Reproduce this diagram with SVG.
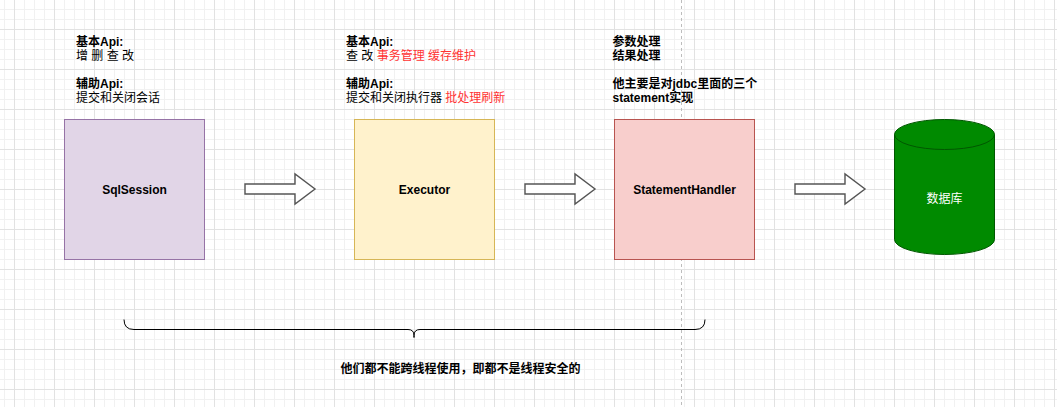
<svg xmlns="http://www.w3.org/2000/svg" width="1057" height="407" viewBox="0 0 1057 407">
<style>
text{font-family:"Liberation Sans","Noto Sans CJK SC",sans-serif;font-size:12px;fill:#000}
.b{font-weight:bold}
.red{fill:#ff3333}
.c{text-anchor:middle;dominant-baseline:central}
.arrow{fill:#fff;stroke:#555;stroke-width:1.4;stroke-linejoin:miter}
</style>
<defs>
<pattern id="grid" patternUnits="userSpaceOnUse" x="14" y="29" width="40" height="40">
<path d="M10.5 0V40M20.5 0V40M30.5 0V40M0 10.5H40M0 20.5H40M0 30.5H40" stroke="#f1f1f1" stroke-width="1" fill="none"/>
<path d="M0.5 0V40M0 0.5H40" stroke="#e2e2e2" stroke-width="1" fill="none"/>
</pattern>
</defs>
<rect width="1057" height="407" fill="#fff"/>
<rect width="1057" height="407" fill="url(#grid)"/>
<line x1="681.5" y1="0" x2="681.5" y2="407" stroke="#bdbdbd" stroke-width="1" stroke-dasharray="3 3"/>

<g id="sqlsession">
<rect x="64.5" y="119.5" width="140" height="140" fill="#e1d5e7" stroke="#9673a6"/>
<text class="b c" x="134.5" y="189.5">SqlSession</text>
</g>
<g id="executor">
<rect x="354.5" y="119.5" width="140" height="140" fill="#fff2cc" stroke="#d6b656"/>
<text class="b c" x="424.5" y="189.5">Executor</text>
</g>
<g id="statementhandler">
<rect x="614.5" y="119.5" width="140" height="140" fill="#f8cecc" stroke="#b85450"/>
<text class="b c" x="684.5" y="189.5">StatementHandler</text>
</g>
<g id="database">
<path d="M894.5 134.5A50 15 0 0 1 994.5 134.5V239.5A50 15 0 0 1 894.5 239.5Z" fill="#008a00" stroke="#005700"/>
<path d="M894.5 134.5A50 15 0 0 0 994.5 134.5" fill="none" stroke="#005700"/>
<text class="c" x="944.5" y="199" style="fill:#fff">数据库</text>
</g>

<g id="connectors">
<path class="arrow" d="M245 184H295V174L315 189L295 204V194H245Z"/>
<path class="arrow" d="M525 184H575V174L595 189L575 204V194H525Z"/>
<path class="arrow" d="M795 184H845V174L865 189L845 204V194H795Z"/>
</g>

<g id="label-sqlsession">
<text class="b" x="76" y="46">基本Api:</text>
<text x="76" y="60">增 删 查 改</text>
<text class="b" x="76" y="88">辅助Api:</text>
<text x="76" y="102">提交和关闭会话</text>
</g>
<g id="label-executor">
<text class="b" x="346" y="46">基本Api:</text>
<text x="346" y="60">查 改 <tspan class="red">事务管理 缓存维护</tspan></text>
<text class="b" x="346" y="88">辅助Api:</text>
<text x="346" y="102">提交和关闭执行器 <tspan class="red">批处理刷新</tspan></text>
</g>
<g id="label-statementhandler">
<text class="b" x="612.5" y="46">参数处理</text>
<text class="b" x="612.5" y="60">结果处理</text>
<text class="b" x="612.5" y="88">他主要是对jdbc里面的三个</text>
<text class="b" x="612.5" y="102">statement实现</text>
</g>

<g id="brace">
<path d="M124 319.5Q124 329.5 134 329.5H408Q414 329.5 414 335.5V337.5V335.5Q414 329.5 420 329.5H695Q705 329.5 705 319.5" fill="none" stroke="#000" stroke-width="1"/>
<text class="b c" x="460.5" y="369">他们都不能跨线程使用，即都不是线程安全的</text>
</g>
</svg>
